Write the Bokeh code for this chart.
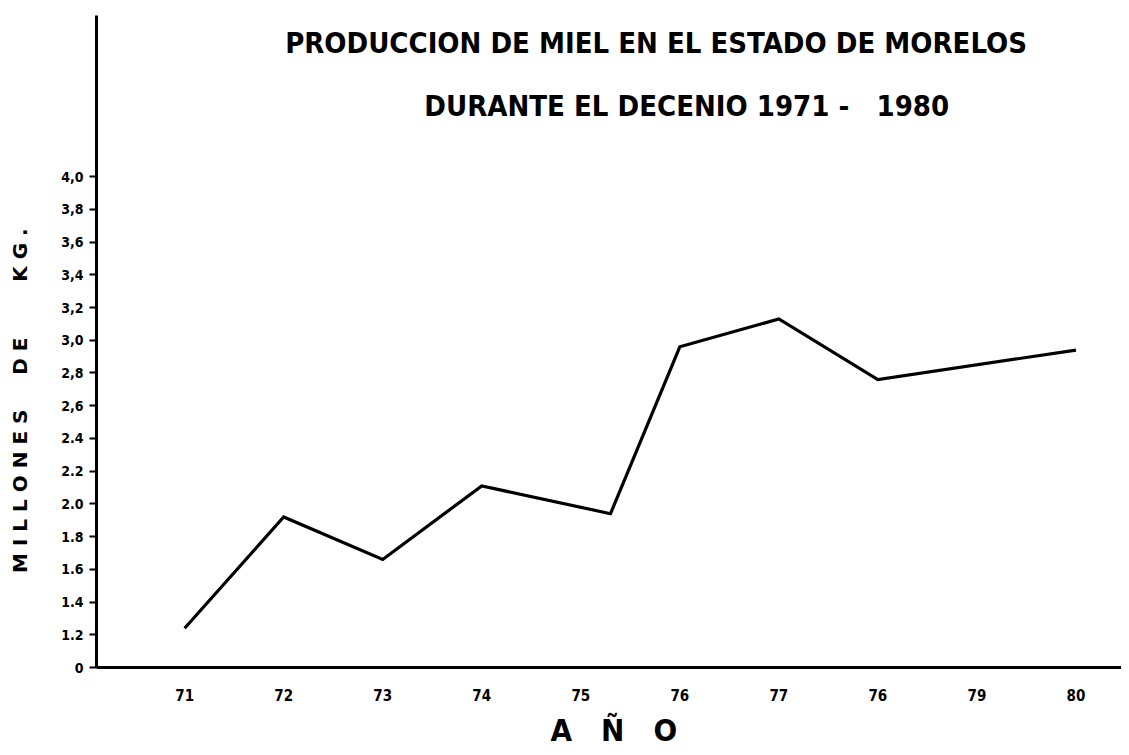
from bokeh.plotting import figure
from bokeh.models import FixedTicker, Label
from bokeh.embed import file_html
from bokeh.resources import INLINE

# ---- data ----
years = [71, 72, 73, 74, 75.3, 76, 77, 78, 80]
production = [1.24, 1.92, 1.66, 2.11, 1.94, 2.96, 3.13, 2.76, 2.94]

x_ticks = [71, 72, 73, 74, 75, 76, 77, 78, 79, 80]
x_tick_labels = ["71", "72", "73", "74", "75", "76", "77", "76", "79", "80"]

# the axis is broken: the "0" sits one step below 1.2
y_ticks = [1.0, 1.2, 1.4, 1.6, 1.8, 2.0, 2.2, 2.4, 2.6, 2.8, 3.0, 3.2, 3.4, 3.6, 3.8, 4.0]
y_tick_labels = ["0", "1.2", "1.4", "1.6", "1.8", "2.0", "2.2", "2.4", "2,6", "2,8",
                 "3,0", "3,2", "3,4", "3,6", "3,8", "4,0"]

title_line1 = "PRODUCCION DE MIEL EN EL ESTADO DE MORELOS"
title_line2 = "DURANTE EL DECENIO 1971 -\u00a0\u00a0 1980"
nb = "\u00a0"
y_label = (nb.join("MILLONES") + nb * 5 + nb.join("DE") + nb * 8 + nb.join("KG.") + nb * 17)
x_label = nb + (nb * 3).join("AÑO")

FONT = "DejaVu Sans Condensed"

p = figure(width=1121, height=750,
           x_range=(70.11, 80.46), y_range=(1.0, 4.985),
           output_backend="svg", toolbar_location=None,
           min_border_left=96, min_border_right=0,
           min_border_top=15, min_border_bottom=83)

p.grid.visible = False
p.outline_line_color = None
p.background_fill_color = "white"
p.border_fill_color = "white"

p.line(years, production, line_color="black", line_width=3.2, line_join="miter")

# x axis
xa = p.xaxis[0]
xa.ticker = FixedTicker(ticks=x_ticks)
xa.major_label_overrides = {t: l for t, l in zip(x_ticks, x_tick_labels)}
xa.major_tick_out = 0
xa.major_tick_in = 0
xa.minor_tick_out = 0
xa.minor_tick_in = 0
xa.axis_line_width = 3
xa.axis_line_color = "black"
xa.major_label_standoff = 21
xa.major_label_text_font = FONT
xa.major_label_text_font_style = "bold"
xa.major_label_text_font_size = "15px"
xa.major_label_text_color = "black"
xa.axis_label = x_label
xa.axis_label_standoff = 8
xa.axis_label_text_font = FONT
xa.axis_label_text_font_style = "bold"
xa.axis_label_text_font_size = "31px"
xa.axis_label_text_color = "black"

# y axis
ya = p.yaxis[0]
ya.ticker = FixedTicker(ticks=y_ticks)
ya.major_label_overrides = {t: l for t, l in zip(y_ticks, y_tick_labels)}
ya.major_tick_out = 7
ya.major_tick_in = 0
ya.major_tick_line_width = 2
ya.minor_tick_out = 0
ya.minor_tick_in = 0
ya.axis_line_width = 3
ya.axis_line_color = "black"
ya.major_label_standoff = 6
ya.major_label_text_font = FONT
ya.major_label_text_font_style = "bold"
ya.major_label_text_font_size = "14px"
ya.major_label_text_color = "black"
ya.axis_label = y_label
ya.axis_label_standoff = 26
ya.axis_label_text_font = "DejaVu Sans"
ya.axis_label_text_font_style = "bold"
ya.axis_label_text_font_size = "20px"
ya.axis_label_text_color = "black"

# title (two lines)
p.add_layout(Label(x=75.76, y=4.918, text=title_line1, text_align="center",
                   text_baseline="top", text_font=FONT, text_font_style="bold",
                   text_font_size="29px", text_color="black"))
p.add_layout(Label(x=76.07, y=4.533, text=title_line2, text_align="center",
                   text_baseline="top", text_font=FONT, text_font_style="bold",
                   text_font_size="29px", text_color="black"))

open("out.html", "w").write(file_html(p, INLINE))
